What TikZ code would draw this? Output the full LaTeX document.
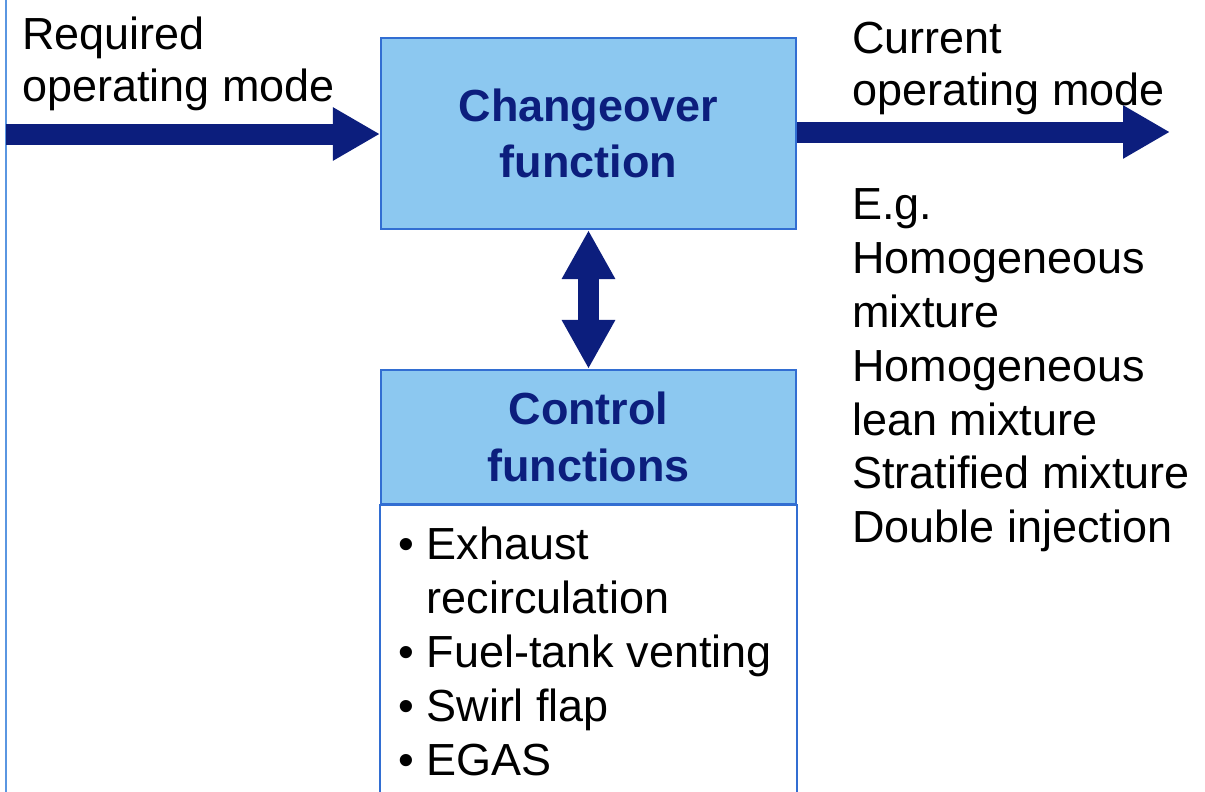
\documentclass[tikz,border=0pt]{standalone}
\usepackage{fontspec}
\setmainfont{Liberation Sans}
\usetikzlibrary{arrows.meta,positioning}
\definecolor{navy}{RGB}{12,30,125}
\definecolor{boxfill}{RGB}{140,200,240}
\definecolor{boxline}{RGB}{50,110,210}
\definecolor{siderule}{RGB}{90,150,225}
\tikzset{
  modetext/.style={inner sep=0pt,align=left,font=\fontsize{25.6}{29.6}\selectfont},
  listtext/.style={inner sep=0pt,align=left,font=\fontsize{25.6}{30.7}\selectfont},
  funcbox/.style={draw=boxline,line width=1.2pt,fill=boxfill,minimum width=8.3cm,
    align=center,text=navy,font=\bfseries\fontsize{25.6}{32}\selectfont},
  flow/.style={navy,line width=0.42cm,-{Triangle[length=0.94cm,width=1cm]}},
}

\begin{document}
\begin{tikzpicture}[x=0.02cm,y=-0.02cm]
	\useasboundingbox (0,0) rectangle (1205,792);
	%% Left rule
	\draw[siderule,line width=1.5pt] (6,0) -- (6,792);
	%% Boxes
	\node[funcbox,minimum height=3.82cm] (change) at (588.5,133.5) {Changeover\\function};
	\node[funcbox,minimum height=2.68cm] (ctrl) at (588.5,437) {Control\\functions};
	\draw[boxline,line width=1.2pt,fill=white] (ctrl.south west) rectangle (ctrl.south east |- 0,830);
	\node[listtext,anchor=north west] (list) at (398,527)
		{\textbullet\ Exhaust\\\hphantom{\textbullet\ }recirculation\\\textbullet\ Fuel-tank venting\\\textbullet\ Swirl flap\\\textbullet\ EGAS};
	%% Modes
	\node[modetext,anchor=north west] (req) at (22,17) {Required\\operating mode};
	\node[modetext,anchor=north west] (cur) at (852,22) {Current\\operating mode};
	\node[listtext,anchor=north west] (eg) at (852,188)
		{E.g.\\Homogeneous\\mixture\\Homogeneous\\lean mixture\\Stratified mixture\\Double injection};
	%% Arrows
	\coordinate (in) at (6,134);
	\coordinate (out) at (1170,132);
	\draw[flow] (in) -- (in -| change.west);
	\draw[flow] (change.east |- out) -- (out);
	\draw[flow,{Triangle[length=0.98cm,width=1cm]}-{Triangle[length=0.98cm,width=1cm]}] (change.south) -- (ctrl.north);
\end{tikzpicture}
\end{document}
